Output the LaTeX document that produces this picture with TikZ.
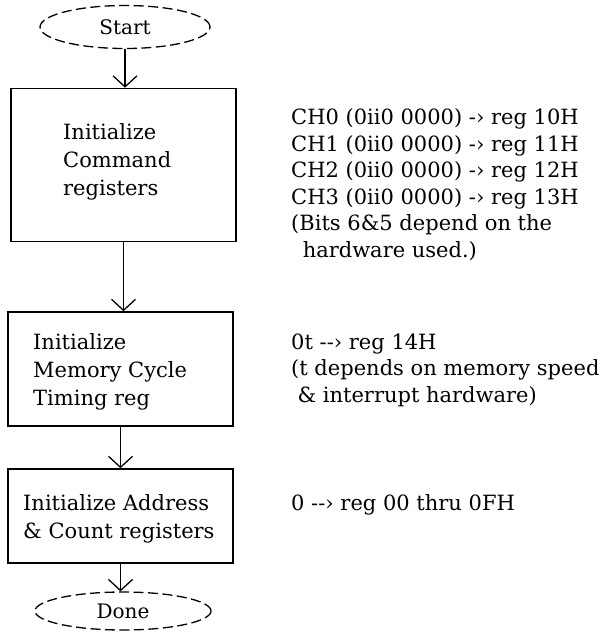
\documentclass[tikz,border=0pt]{standalone}
\usepackage{fontspec}
\setmainfont{DejaVu Serif}
\usetikzlibrary{shapes.geometric,arrows.meta}
\begin{document}
\begin{tikzpicture}[x=1pt,y=-1pt,
  term/.style={draw,dash pattern=on 10pt off 4.5pt,ellipse,line width=1.3pt,inner sep=0pt,
    font=\fontsize{20}{24}\selectfont},
  procbox/.style={draw,line width=1.6pt,rectangle,inner sep=0pt,minimum width=225pt},
  flow/.style={-{Straight Barb[length=11pt,width=24pt,line width=1.3pt]},line width=1.3pt},
  boxtext/.style={font=\fontsize{21}{28}\selectfont,align=left,inner sep=0pt,anchor=north west},
  note/.style={font=\fontsize{21}{26.5}\selectfont,align=left,inner sep=0pt,anchor=north west}]
\useasboundingbox (0,0) rectangle (611,632);
% terminals
\node[term,minimum width=170pt,minimum height=43pt] (start) at (125,27) {Start};
\node[term,minimum width=176pt,minimum height=38pt] (done) at (123,611) {Done};
% process boxes
\node[procbox,minimum height=153pt] (box1) at (123.5,165) {};
\node[procbox,minimum height=114pt] (box2) at (120.5,369) {};
\node[procbox,minimum height=94pt] (box3) at (120.5,516) {};
% box texts
\node[boxtext] (t1) at (63,123.5) {Initialize\\Command\\registers};
\node[boxtext] (t2) at (33,333.5) {Initialize\\Memory Cycle\\Timing reg};
\node[boxtext] (t3) at (23,494) {Initialize Address\\\& Count registers};
% notes
\node[note] (n1) at (291,108.5) {CH0 (0ii0 0000) -› reg 10H\\CH1 (0ii0 0000) -› reg 11H\\CH2 (0ii0 0000) -› reg 12H\\CH3 (0ii0 0000) -› reg 13H\\(Bits 6\&5 depend on the\\\hspace*{0.55em}hardware used.)};
\node[note] (n2) at (291,333.5) {0t -{}-› reg 14H\\(t depends on memory speed\\\hspace*{0.3em}\& interrupt hardware)};
\node[note] (n3) at (291,494) {0 -{}-› reg 00 thru 0FH};
% connectors
\draw[flow] (start.south) -- (start.south |- box1.north);
\draw[flow] (box1.south) -- (box1.south |- box2.north);
\draw[flow] (box2.south) -- (box2.south |- box3.north);
\draw[flow] (box3.south) -- (box3.south |- done.north);
\end{tikzpicture}
\end{document}
